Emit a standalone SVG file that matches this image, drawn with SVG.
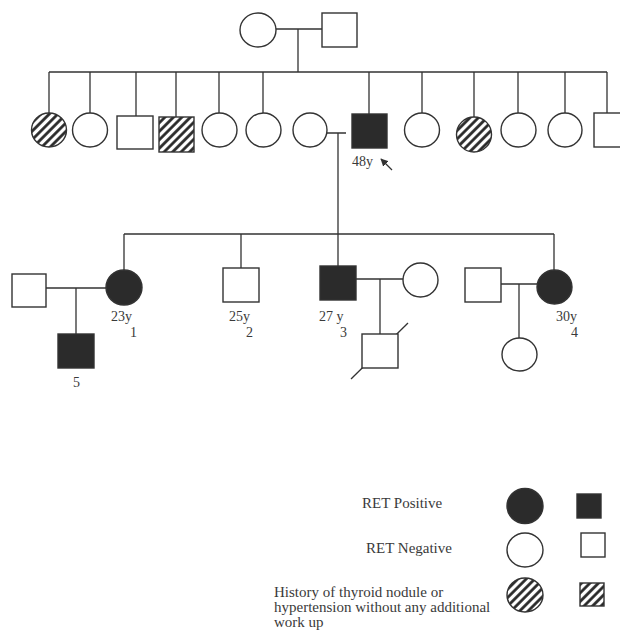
<svg xmlns="http://www.w3.org/2000/svg" width="620" height="632" viewBox="0 0 620 632">
<defs>
<pattern id="hatch" patternUnits="userSpaceOnUse" width="6" height="6" patternTransform="rotate(45)">
<rect width="6" height="6" fill="#fff"/>
<line x1="1.5" y1="0" x2="1.5" y2="6" stroke="#222" stroke-width="2.7"/>
</pattern>
<marker id="arr" viewBox="0 0 10 10" refX="9" refY="5" markerWidth="6" markerHeight="6" orient="auto">
<path d="M0,0 L10,5 L0,10 z" fill="#333"/>
</marker>
</defs>
<style>
.s{stroke:#333;stroke-width:1.4;fill:#fff}
.f{stroke:#333;stroke-width:1.4;fill:#2b2b2b}
.h{stroke:#333;stroke-width:1.4;fill:url(#hatch)}
.ln{stroke:#333;stroke-width:1.3;fill:none}
text{font-family:"Liberation Serif","Times New Roman",serif;fill:#3a3a3a}
.lb{font-size:14px}
.lg{font-size:15px}
</style>
<rect width="620" height="632" fill="#fff"/>

<g id="connectors">
<path class="ln" d="M276,29 H322 M298,29 V72 M49,72 H607"/>
<path class="ln" d="M49,72 V113 M90,72 V113 M136,72 V116 M176,72 V117 M219,72 V113 M263,72 V113 M369,72 V114 M422,72 V113 M474,72 V117 M518,72 V113 M565,72 V113 M607,72 V113"/>
<path class="ln" d="M327,133 H346 M338,133 V234 M124,234 H554 M124,234 V270 M241,234 V268 M338,234 V266 M554,234 V270"/>
<path class="ln" d="M46,288 H106 M76,288 V334"/>
<path class="ln" d="M356,279 H403 M380,279 V334"/>
<path class="ln" d="M501,284 H537 M519,284 V338"/>
<line class="ln" x1="351" y1="379" x2="408" y2="323"/>
<line class="ln" x1="392" y1="170" x2="381" y2="159" marker-end="url(#arr)"/>
</g>

<g id="gen1-mother"><ellipse class="s" cx="258" cy="30" rx="18" ry="17"/></g>
<g id="gen1-father"><rect class="s" x="322" y="13" width="35" height="34"/></g>

<g id="ii-1"><ellipse class="h" cx="49" cy="130" rx="17.5" ry="17"/></g>
<g id="ii-2"><ellipse class="s" cx="90" cy="130" rx="17.5" ry="17"/></g>
<g id="ii-3"><rect class="s" x="117" y="116" width="36" height="33"/></g>
<g id="ii-4"><rect class="h" x="159" y="117" width="35" height="35"/></g>
<g id="ii-5"><ellipse class="s" cx="219.5" cy="130" rx="17.5" ry="17"/></g>
<g id="ii-6"><ellipse class="s" cx="263.5" cy="130" rx="17.5" ry="17"/></g>
<g id="ii-7"><ellipse class="s" cx="310" cy="130" rx="17" ry="17"/></g>
<g id="ii-8"><rect class="f" x="352" y="114" width="35" height="34"/><text class="lb" x="352" y="166">48y</text></g>
<g id="ii-9"><ellipse class="s" cx="422" cy="130" rx="17.5" ry="17"/></g>
<g id="ii-10"><ellipse class="h" cx="474" cy="134.5" rx="17.5" ry="17.5"/></g>
<g id="ii-11"><ellipse class="s" cx="518.5" cy="130" rx="17.5" ry="17"/></g>
<g id="ii-12"><ellipse class="s" cx="565" cy="130" rx="17" ry="17"/></g>
<g id="ii-13"><rect class="s" x="594" y="113" width="35" height="34"/></g>

<g id="iii-spouse1"><rect class="s" x="12" y="274" width="34" height="33"/></g>
<g id="iii-1"><ellipse class="f" cx="124" cy="287.5" rx="18" ry="17.5"/><text class="lb" x="111" y="321">23y</text><text class="lb" x="130" y="337">1</text></g>
<g id="iii-2"><rect class="s" x="223" y="268" width="36" height="34"/><text class="lb" x="229" y="321">25y</text><text class="lb" x="246" y="337">2</text></g>
<g id="iii-3"><rect class="f" x="320" y="266" width="36" height="34"/><text class="lb" x="319" y="321">27 y</text><text class="lb" x="340" y="337">3</text></g>
<g id="iii-spouse3"><ellipse class="s" cx="420.5" cy="280" rx="17.5" ry="17"/></g>
<g id="iii-spouse4"><rect class="s" x="465" y="268" width="36" height="34"/></g>
<g id="iii-4"><ellipse class="f" cx="554.5" cy="287" rx="17.5" ry="17"/><text class="lb" x="556" y="321">30y</text><text class="lb" x="571" y="337">4</text></g>

<g id="iv-5"><rect class="f" x="58" y="334" width="36" height="34"/><text class="lb" x="73" y="387">5</text></g>
<g id="iv-3child"><rect class="s" x="362" y="334" width="36" height="34"/></g>
<g id="iv-4child"><ellipse class="s" cx="519.5" cy="354.5" rx="17.5" ry="16.5"/></g>

<g id="legend">
<text class="lg" x="362" y="508">RET Positive</text>
<ellipse class="f" cx="525" cy="506" rx="18" ry="17.5"/>
<rect class="f" x="577" y="494" width="24" height="24"/>
<text class="lg" x="366" y="553">RET Negative</text>
<ellipse class="s" cx="525" cy="550" rx="18" ry="17"/>
<rect class="s" x="581" y="533" width="24" height="24"/>
<text class="lg" x="274" y="597">History of thyroid nodule or</text>
<text class="lg" x="274" y="612">hypertension without any additional</text>
<text class="lg" x="274" y="627">work up</text>
<ellipse class="h" cx="525" cy="595" rx="18" ry="17"/>
<rect class="h" x="580" y="583" width="24" height="23"/>
</g>
</svg>
